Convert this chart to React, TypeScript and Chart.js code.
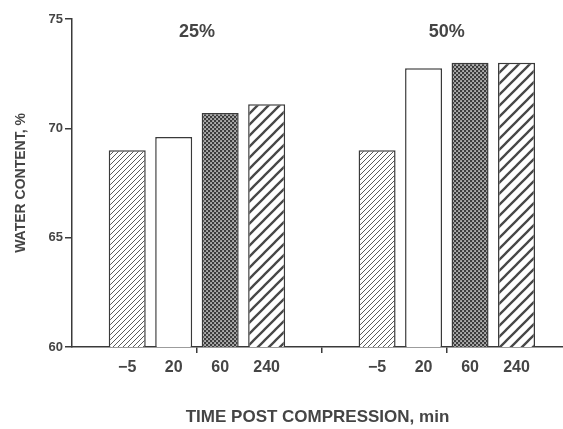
import React, { useEffect, useRef } from 'react';
import { Chart, registerables } from 'chart.js';

Chart.register(...registerables);

// ---- data ----
const groups = ['25%', '50%'];
const times = ['\u22125', '20', '60', '240'];
const water25 = [69.0, 69.6, 70.7, 71.1];
const water50 = [69.0, 72.75, 73.0, 73.0];
const yMin = 60;
const yMax = 75;
const yStep = 5;

const INK = '#3a3a3a';
const TEXT = '#454545';
const FONT = "'Liberation Sans', Arial, sans-serif";

function makePattern(kind: string): CanvasPattern | string {
  const c = document.createElement('canvas');
  const ctx = c.getContext('2d');
  if (!ctx) return '#fff';
  if (kind === 'fine' || kind === 'coarse') {
    const s = kind === 'fine' ? 5 : 11;
    c.width = s;
    c.height = s;
    ctx.fillStyle = '#fff';
    ctx.fillRect(0, 0, s, s);
    ctx.strokeStyle = kind === 'fine' ? '#5a5a5a' : '#474747';
    ctx.lineWidth = kind === 'fine' ? 1 : 2.3;
    ctx.beginPath();
    ctx.moveTo(-2, s + 2);
    ctx.lineTo(s + 2, -2);
    ctx.moveTo(-2, 2);
    ctx.lineTo(2, -2);
    ctx.moveTo(s - 2, s + 2);
    ctx.lineTo(s + 2, s - 2);
    ctx.stroke();
  } else if (kind === 'dots') {
    const s = 4;
    c.width = s;
    c.height = s;
    ctx.fillStyle = '#3c3c3c';
    ctx.fillRect(0, 0, s, s);
    ctx.fillStyle = '#f2f2f2';
    ctx.fillRect(0.3, 0.3, 1.5, 1.5);
    ctx.fillRect(2.3, 2.3, 1.5, 1.5);
  } else {
    return '#ffffff';
  }
  return ctx.createPattern(c, 'repeat') || '#fff';
}

const labelPlugin = {
  id: 'barLabels',
  afterDatasetsDraw(chart: any) {
    const ctx = chart.ctx;
    const xs = chart.scales.x;
    const ys = chart.scales.y;
    ctx.save();
    ctx.fillStyle = TEXT;
    ctx.textAlign = 'center';
    ctx.textBaseline = 'middle';
    ctx.font = `bold 16px ${FONT}`;
    chart.data.datasets.forEach((ds: any, i: number) => {
      const meta = chart.getDatasetMeta(i);
      meta.data.forEach((bar: any) => {
        ctx.fillText(times[i], bar.x, ys.bottom + 21);
      });
    });
    ctx.font = `bold 18px ${FONT}`;
    groups.forEach((g, gi) => {
      ctx.fillText(g, xs.getPixelForValue(1 + 2 * gi), ys.top + 13);
    });
    ctx.restore();
  },
};

export default function App() {
  const ref = useRef<HTMLCanvasElement | null>(null);

  useEffect(() => {
    if (!ref.current) return;
    const patterns = [makePattern('fine'), makePattern('none'), makePattern('dots'), makePattern('coarse')];
    const series = [water25, water50];
    const datasets = times.map((t, i) => ({
      label: t,
      data: groups.map((g, gi) => ({ x: 1 + 2 * gi, y: series[gi][i] })),
      backgroundColor: patterns[i],
      borderColor: INK,
      borderWidth: 1.5,
      borderSkipped: 'bottom',
      categoryPercentage: 1.488,
      barPercentage: 0.796,
    }));

    const chart = new Chart(ref.current, {
      type: 'bar',
      data: { datasets: datasets as any },
      plugins: [labelPlugin],
      options: {
        animation: false,
        responsive: false,
        maintainAspectRatio: false,
        layout: { padding: { top: 19, right: 0, bottom: 0, left: 0 } },
        plugins: {
          legend: { display: false },
          tooltip: { enabled: false },
        },
        scales: {
          x: {
            type: 'linear',
            min: 0,
            max: 3.93,
            offset: false,
            grid: {
              offset: false,
              drawOnChartArea: false,
              drawTicks: true,
              tickLength: 6,
              lineWidth: 1.5,
              color: (c: any) => (c.tick && c.tick.value === 0 ? 'rgba(0,0,0,0)' : INK),
            },
            border: { display: true, color: INK, width: 1.5 },
            ticks: { display: false, stepSize: 1, includeBounds: false },
            title: {
              display: true,
              text: 'TIME POST COMPRESSION, min',
              color: TEXT,
              font: { family: FONT, size: 17, weight: 'bold' },
              padding: { top: 0, bottom: 1 },
            },
            afterFit: (s: any) => {
              s.height = 82;
            },
          },
          y: {
            min: yMin,
            max: yMax,
            grid: {
              drawOnChartArea: false,
              drawTicks: true,
              tickLength: 7,
              lineWidth: 1.5,
              color: INK,
            },
            border: { display: true, color: INK, width: 1.5 },
            ticks: {
              stepSize: yStep,
              color: TEXT,
              padding: 2,
              font: { family: FONT, size: 13, weight: 'bold' },
            },
            title: {
              display: true,
              text: 'WATER CONTENT, %',
              color: TEXT,
              font: { family: FONT, size: 14, weight: 'bold' },
              padding: { top: 13, bottom: 0 },
            },
            afterFit: (s: any) => {
              s.width = 72;
            },
          },
        },
      } as any,
    });
    return () => chart.destroy();
  }, []);

  return (
    <div style={{ position: 'fixed', left: 0, top: 0, width: 563, height: 429, background: '#fff' }}>
      <canvas ref={ref} width={563} height={429} style={{ display: 'block' }} />
    </div>
  );
}
